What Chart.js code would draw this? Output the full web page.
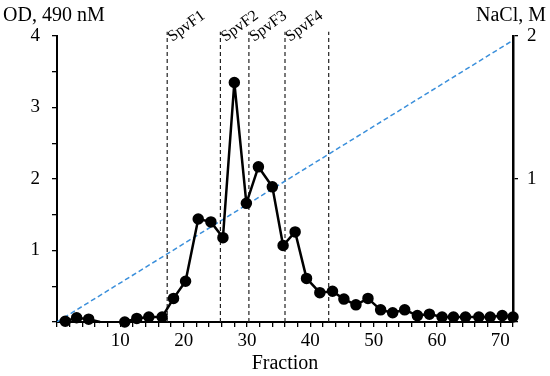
<!DOCTYPE html>
<html>
<head>
<meta charset="utf-8">
<script src="https://cdn.jsdelivr.net/npm/chart.js@4"></script>
<style>
  body { margin: 0; background: #fff; }
</style>
</head>
<body>
<canvas id="chart" width="550" height="376"></canvas>
<script>
// values
const fractions = [1.3, 3.1, 5.0, 6.8, 8.7, 10.7, 12.6, 14.5, 16.6, 18.4, 20.3, 22.3, 24.3, 26.2, 28.0, 29.9, 31.8, 34.0, 35.7, 37.6,
    39.4, 41.5, 43.5, 45.3, 47.2, 49.1, 51.1, 53.0, 54.9, 56.9, 58.8, 60.8, 62.6, 64.5, 66.6, 68.4, 70.3, 72.0];
const od = [0.01, 0.06, 0.04, 0, null, 0, 0.05, 0.07, 0.07, 0.33, 0.57, 1.44, 1.40, 1.18, 3.35, 1.66, 2.17, 1.89, 1.07, 1.26,
    0.61, 0.41, 0.43, 0.32, 0.24, 0.33, 0.17, 0.13, 0.17, 0.09, 0.11, 0.07, 0.07, 0.07, 0.07, 0.07, 0.09, 0.07];
const naclX = [0, 72];
const naclY = [0, 1.97];
const boundaries = [17.4, 25.8, 30.3, 36.0, 42.9];
const poolNames = ['SpvF1', 'SpvF2', 'SpvF3', 'SpvF4'];

const FONT = "'Liberation Serif', 'Times New Roman', serif";

const datasets = [];
datasets.push({
    data: fractions.map((x, i) => ({ x: x, y: od[i] })),
    yAxisID: 'y',
    borderColor: '#000',
    backgroundColor: '#000',
    borderWidth: 2.5,
    showLine: true,
    clip: false,
    pointRadius: ctx => {
        // the point right before the gap has no marker in the original
        const next = od[ctx.dataIndex + 1];
        return next === null ? 0 : 4.5;
    },
    order: 1
});
datasets.push({
    data: naclX.map((x, i) => ({ x: x, y: naclY[i] })),
    yAxisID: 'y2',
    borderColor: '#3A8FDB',
    borderWidth: 1.5,
    borderDash: [5, 3],
    showLine: true,
    pointRadius: 0,
    order: 2
});
boundaries.forEach(b => {
    datasets.push({
        data: [{ x: b, y: 0 }, { x: b, y: 4.06 }],
        yAxisID: 'y',
        borderColor: '#222',
        borderWidth: 1.2,
        borderDash: [4, 3],
        showLine: true,
        pointRadius: 0,
        clip: false,
        order: 3
    });
});

// axis titles at the top corners and the rotated pool names
const labelsPlugin = {
    id: 'labels',
    afterDraw(chart) {
        const c = chart.ctx;
        const xs = chart.scales.x;
        c.save();
        c.fillStyle = '#000';
        c.font = '20px ' + FONT;
        c.textBaseline = 'alphabetic';
        c.textAlign = 'left';
        c.fillText('OD, 490 nM', 3, 21);
        c.textAlign = 'right';
        c.fillText('NaCl, M', 546, 21);

        c.font = '16px ' + FONT;
        c.textAlign = 'left';
        poolNames.forEach((name, i) => {
            const px = xs.getPixelForValue(boundaries[i]) + 5;
            c.save();
            c.translate(px, 42);
            c.rotate(-36 * Math.PI / 180);
            c.fillText(name, 0, 0);
            c.restore();
        });
        c.restore();
    }
};

const axisGrid = {
    display: true,
    drawOnChartArea: false,
    drawTicks: true,
    tickLength: 5,
    color: '#000',
    tickColor: '#000',
    lineWidth: 1.3
};

new Chart(document.getElementById('chart'), {
    type: 'scatter',
    data: { datasets: datasets },
    options: {
        responsive: false,
        animation: false,
        layout: { autoPadding: false, padding: { top: 36, left: 0, right: 0, bottom: 0 } },
        plugins: { legend: { display: false }, tooltip: { enabled: false } },
        scales: {
            x: {
                type: 'linear',
                min: 0,
                max: 72,
                afterFit: s => { s.height = 54; },
                border: { display: true, color: '#000', width: 2 },
                grid: axisGrid,
                ticks: {
                    stepSize: 2,
                    autoSkip: false,
                    maxRotation: 0,
                    padding: 3,
                    color: '#000',
                    font: { family: FONT, size: 19 },
                    callback: v => (v % 10 === 0 && v !== 0) ? String(v) : ''
                },
                title: {
                    display: true,
                    text: 'Fraction',
                    color: '#000',
                    font: { family: FONT, size: 20 },
                    padding: { top: 0, bottom: 0 }
                }
            },
            y: {
                position: 'left',
                min: 0,
                max: 4,
                afterFit: s => { s.width = 57; },
                border: { display: true, color: '#000', width: 2 },
                grid: axisGrid,
                ticks: {
                    stepSize: 0.5,
                    autoSkip: false,
                    padding: 12,
                    color: '#000',
                    font: { family: FONT, size: 19 },
                    callback: v => (Number.isInteger(v) && v !== 0) ? String(v) : ''
                }
            },
            y2: {
                position: 'right',
                min: 0,
                max: 2,
                afterFit: s => { s.width = 37; },
                border: { display: true, color: '#000', width: 2.5 },
                grid: axisGrid,
                ticks: {
                    stepSize: 1,
                    autoSkip: false,
                    padding: 9,
                    color: '#000',
                    font: { family: FONT, size: 19 },
                    callback: v => v !== 0 ? String(v) : ''
                }
            }
        }
    },
    plugins: [labelsPlugin]
});
</script>
</body>
</html>
